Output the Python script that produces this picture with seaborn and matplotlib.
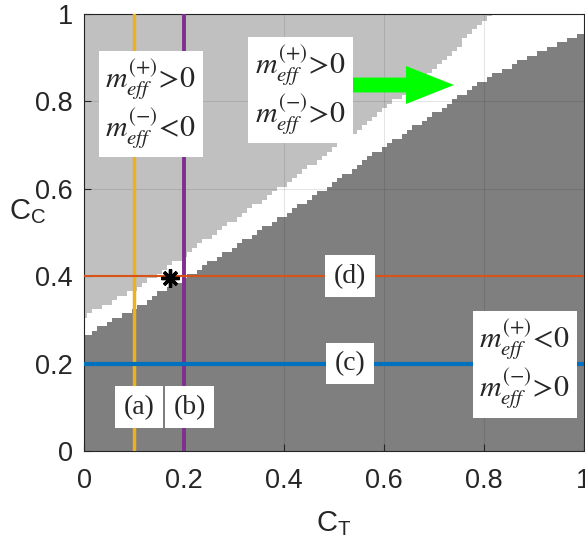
"""
Phase map of the effective masses m_eff(+) / m_eff(-) over (C_T, C_C),
with the four cut lines (a)-(d) used in the dispersion plots.
"""

import numpy as np
import matplotlib
matplotlib.use('Agg')
import matplotlib.pyplot as plt
from matplotlib.colors import ListedColormap
from matplotlib.patches import FancyArrow
import seaborn as sns

# Phase boundaries: C_C value of each boundary at the C_T knots
ct_knots = [0.0, 0.1, 0.2, 0.3, 0.4, 0.5, 0.6, 0.7, 0.8, 0.9, 1.0]
lower_cc = [0.262, 0.326, 0.395, 0.467, 0.540, 0.615, 0.697, 0.772, 0.849, 0.910, 0.960]
upper_cc = [0.310, 0.368, 0.447, 0.530, 0.610, 0.692, 0.782, 0.875, 0.985, 1.100, 1.200]

# Cut lines
vline_ct = [0.1, 0.2]
vline_names = ['(a)', '(b)']
hline_cc = [0.2, 0.4]
hline_names = ['(c)', '(d)']

# Marked point
star_ct = [0.172]
star_cc = [0.397]

# Region labels
region_text = [
    '$m^{(+)}_{eff}\\!>\\!0$\n$m^{(-)}_{eff}\\!<\\!0$',
    '$m^{(+)}_{eff}\\!>\\!0$\n$m^{(-)}_{eff}\\!>\\!0$',
    '$m^{(+)}_{eff}\\!<\\!0$\n$m^{(-)}_{eff}\\!>\\!0$',
]
region_ct = [0.134, 0.433, 0.882]
region_cc = [0.794, 0.826, 0.198]

ticks = [0, 0.2, 0.4, 0.6, 0.8, 1]
tick_labels = ['0', '0.2', '0.4', '0.6', '0.8', '1']

sns.set_theme(style='ticks')
plt.rcParams['font.family'] = ['Liberation Sans', 'DejaVu Sans']
plt.rcParams['mathtext.fontset'] = 'stix'

DARK = '#262626'


def phase_grid(step=0.01):
    """Classify a regular (C_T, C_C) grid: 0 = dark, 1 = white band, 2 = light."""
    ct = np.arange(0, 1 + step / 2, step)
    cc = np.arange(0, 1 + step / 2, step)
    lo = np.interp(ct, ct_knots, lower_cc)
    hi = np.interp(ct, ct_knots, upper_cc)
    CC = cc[:, None]
    z = np.where(CC < lo[None, :], 0, np.where(CC < hi[None, :], 1, 2))
    return ct, cc, z


fig = plt.figure(figsize=(5.85, 5.43), dpi=100)
ax = fig.add_axes([84 / 585, 92 / 543, 500 / 585, 437 / 543])

ct, cc, z = phase_grid()
cmap = ListedColormap(['#7f7f7f', '#ffffff', '#c0c0c0'])
ax.pcolormesh(ct, cc, z, cmap=cmap, vmin=-0.5, vmax=2.5, shading='nearest', zorder=0)

# faint grid drawn over the map, like MATLAB's
ax.set_axisbelow(False)
ax.grid(True, color='black', alpha=0.1, linewidth=0.8)

# cut lines
ax.axvline(vline_ct[0], color='#EDB120', lw=2.5, zorder=3)
ax.axvline(vline_ct[1], color='#7E2F8E', lw=2.8, zorder=3)
ax.axhline(hline_cc[0], color='#0072BD', lw=3.0, zorder=3)
ax.axhline(hline_cc[1], color='#D95319', lw=1.5, zorder=3)

ax.plot(star_ct, star_cc, linestyle='none', marker=(8, 2, 0), ms=13,
        mew=2.4, color='black', zorder=4)

# green arrow pointing along the white band
ax.add_patch(FancyArrow(0.516, 0.8375, 0.224, 0, width=0.034, head_width=0.087,
                        head_length=0.096, length_includes_head=True,
                        color='#00ff00', ec='none', zorder=4))

small_box = dict(boxstyle='square,pad=0.3', fc='white', ec='none')
big_box = dict(boxstyle='square,pad=0.22', fc='white', ec='none')

for x, name in zip([0.11, 0.211], vline_names):
    ax.text(x, 0.10, name, ha='center', va='center', fontsize=20,
            family='Liberation Serif', bbox=small_box, zorder=5)
for y, name in zip(hline_cc, hline_names):
    ax.text(0.532, y, name, ha='center', va='center', fontsize=20,
            family='Liberation Serif', bbox=small_box, zorder=5)

for s, x, y in zip(region_text, region_ct, region_cc):
    ax.text(x, y, s, ha='center', va='center', multialignment='left',
            fontsize=21.5, linespacing=1.15, bbox=big_box, zorder=5)

ax.set_xlim(0, 1)
ax.set_ylim(0, 1)
ax.set_xticks(ticks)
ax.set_xticklabels(tick_labels)
ax.set_yticks(ticks)
ax.set_yticklabels(tick_labels)
ax.tick_params(direction='in', length=5, width=0.8, color=DARK,
               labelcolor=DARK, labelsize=19.5)
ax.tick_params(axis='x', pad=12)
ax.tick_params(axis='y', pad=8)
for sp in ax.spines.values():
    sp.set_color(DARK)
    sp.set_linewidth(0.8)
    sp.set_visible(True)

ax.set_xlabel('$\\mathregular{C_T}$', fontsize=21, color=DARK)
ax.xaxis.set_label_coords(0.5, -0.165)
ax.xaxis.label.set_va('center')
ax.set_ylabel('$\\mathregular{C_C}$', fontsize=21, color=DARK, rotation=0)
ax.yaxis.set_label_coords(-0.113, 0.547)
ax.yaxis.label.set_va('center')
ax.yaxis.label.set_ha('center')

fig.savefig('out.png', dpi=100)
